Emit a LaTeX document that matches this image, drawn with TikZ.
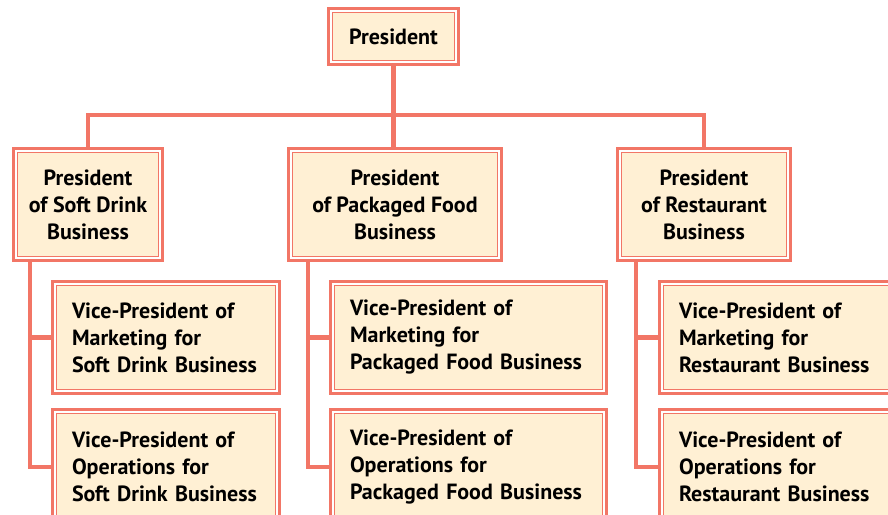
\documentclass[tikz,border=0pt]{standalone}
\usepackage{fontspec}
\setmainfont{PT Sans}
\usepackage{tikz}
\usetikzlibrary{calc, positioning}

\definecolor{orgline}{RGB}{242,118,102}
\definecolor{orgfill}{RGB}{255,240,212}

\begin{document}
\begin{tikzpicture}[x=1pt, y=-1pt,
    orgbox/.style={draw=orgline, line width=3pt, fill=white, inner sep=0pt,
        font=\bfseries\fontsize{22}{27}\selectfont,
        path picture={\draw[orgline, line width=1.3pt, fill=orgfill]
            ([xshift=4.3pt,yshift=4.3pt]path picture bounding box.south west) rectangle
            ([xshift=-4.3pt,yshift=-4.3pt]path picture bounding box.north east);}},
    headbox/.style={orgbox, align=center},
    vpbox/.style={orgbox, align=left, inner xsep=19.5pt, minimum height=112pt},
    link/.style={orgline, line width=4.6pt, line join=miter}]
    \useasboundingbox (0,0) rectangle (888,514);

    % the boxes
    \node[headbox, minimum width=130pt, minimum height=56pt] (pres) at (393.5,36.5) {President};
    \node[headbox, minimum width=149pt, minimum height=112pt] (soft) at (88,204.5) {President\\of Soft Drink\\Business};
    \node[headbox, minimum width=213pt, minimum height=112pt] (food) at (395,204.5) {President\\of Packaged Food\\Business};
    \node[headbox, minimum width=173pt, minimum height=112pt] (rest) at (704,204.5) {President\\of Restaurant\\Business};

    \node[vpbox, text width=188pt] (softmkt) at (166,337.5) {Vice-President of\\Marketing for\\Soft Drink Business};
    \node[vpbox, text width=188pt, minimum height=115pt] (softops) at (166,467) {Vice-President of\\Operations for\\Soft Drink Business};
    \node[vpbox, text width=237pt] (foodmkt) at (468.5,337.5) {Vice-President of\\Marketing for\\Packaged Food Business};
    \node[vpbox, text width=237pt, minimum height=115pt] (foodops) at (468.5,467) {Vice-President of\\Operations for\\Packaged Food Business};
    \node[vpbox, text width=200pt] (restmkt) at (779,337.5) {Vice-President of\\Marketing for\\Restaurant Business};
    \node[vpbox, text width=200pt, minimum height=115pt] (restops) at (779,467) {Vice-President of\\Operations for\\Restaurant Business};

    % the lines
    \coordinate (bus) at ($(pres.south)+(0,49)$);
    \coordinate (softtrunk) at ($(soft.south west)+(18,0)$);
    \coordinate (foodtrunk) at ($(food.south west)+(21,0)$);
    \coordinate (resttrunk) at ($(rest.south west)+(20,0)$);
    \draw[link] (pres.south) -- (pres.south |- food.north);
    \draw[link] (soft.north) |- (bus) -| (rest.north);
    \draw[link] (softtrunk) |- (softmkt.west);
    \draw[link] (softtrunk) |- (softops.west);
    \draw[link] (foodtrunk) |- (foodmkt.west);
    \draw[link] (foodtrunk) |- (foodops.west);
    \draw[link] (resttrunk) |- (restmkt.west);
    \draw[link] (resttrunk) |- (restops.west);
\end{tikzpicture}
\end{document}
